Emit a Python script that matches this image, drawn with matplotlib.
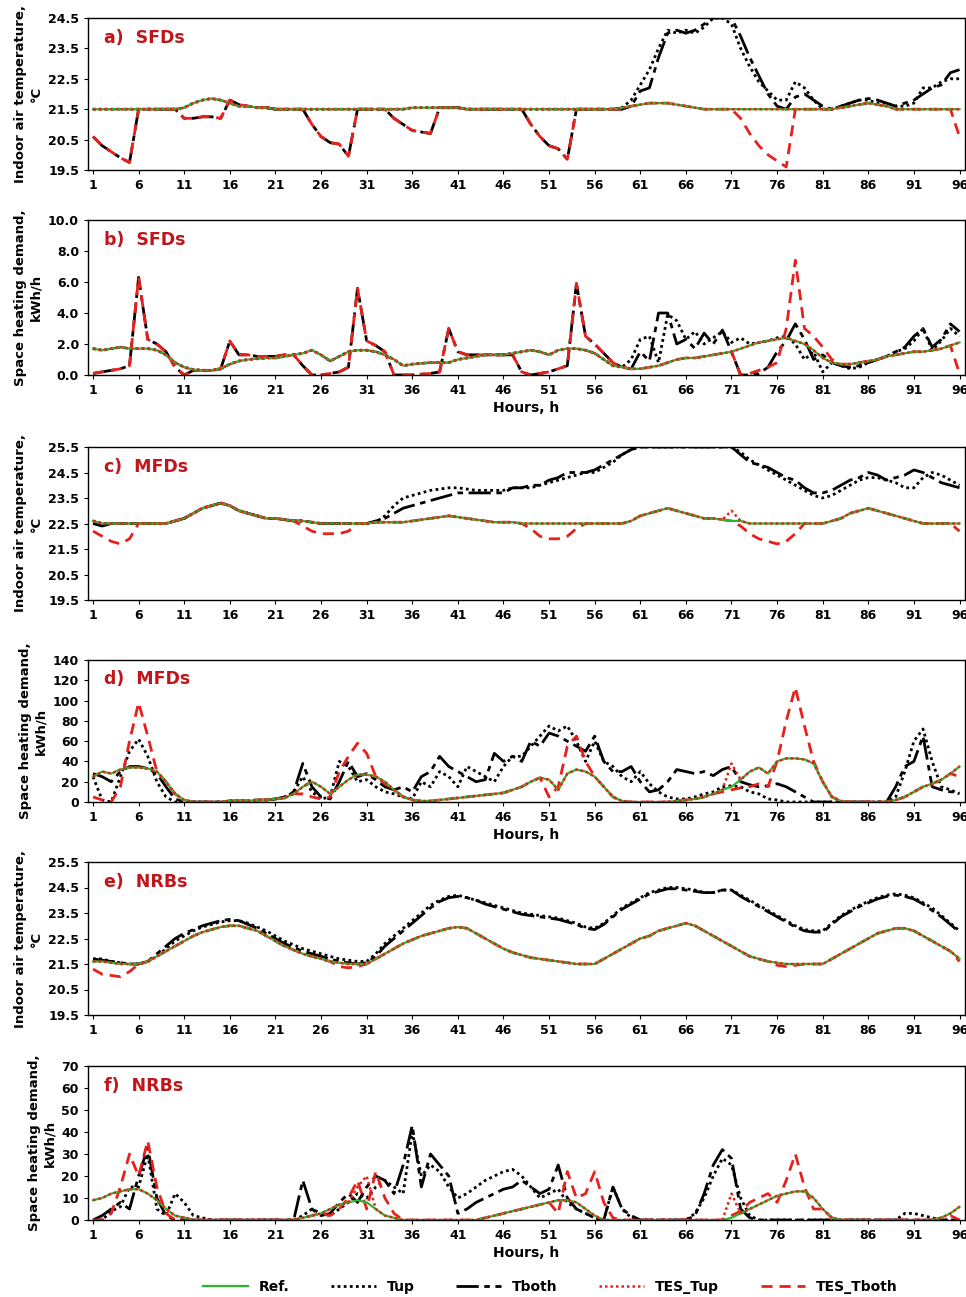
import matplotlib
matplotlib.use("Agg")
import matplotlib.pyplot as plt
import numpy as np

hours = list(range(1, 97))
xticks = list(range(1, 97, 5))

# ---- a) SFDs temperature
a_ref = [21.5]*10 + [21.55,21.7,21.8,21.85,21.8,21.7,21.6,21.6,21.55,21.55] + [21.5]*15 + [21.55]*6 + [21.5]*17 \
    + [21.55,21.6,21.65,21.7,21.7,21.7,21.65,21.6,21.55] + [21.5]*15 + [21.55,21.6,21.65,21.7,21.65,21.6] + [21.5]*8
a_tup = a_ref[:59] + [21.8,22.3,22.8,23.5,24.1,24.0,24.1,24.0,24.2,24.5, 24.5,24.3,23.5,22.9,22.4,22.1,21.8,21.8,22.4,22.2,
                      21.8,21.5,21.5,21.6,21.7,21.8,21.8,21.7,21.7,21.6, 21.6,21.7,22.2,22.2,22.4,22.5,22.5]
a_tboth = [20.6,20.3,20.1,19.9,19.75] + [21.5]*5 + [21.2,21.2,21.25,21.25,21.2] + [21.8,21.65,21.6,21.55,21.55] + [21.5]*4 \
    + [21.0,20.6,20.4,20.35,19.95] + [21.5]*4 + [21.2,21.0,20.8,20.75,20.7] + [21.55]*3 + [21.5]*7 \
    + [21.0,20.6,20.3,20.2,19.85] + [21.5]*6 \
    + [21.6,22.1,22.2,23.2,24.0,24.1,24.0,24.1,24.3,24.5, 24.5,24.5,23.9,23.2,22.6,22.0,21.6,21.5,21.9,22.0,
       21.8,21.6,21.5,21.6,21.7,21.8,21.85,21.8,21.7,21.6, 21.7,21.8,22.0,22.2,22.3,22.7,22.8]
a_tes_tup = list(a_ref)
a_tes_tboth = a_tboth[:59] + a_ref[59:71] + [21.2,20.7,20.3,20.0,19.8,19.6] + a_ref[77:95] + [20.6]

# ---- b) SFDs heating
b_ref = [1.7,1.6,1.7,1.8,1.7,1.7,1.7,1.6,1.3,0.8, 0.5,0.35,0.3,0.3,0.4,0.7,0.9,1.0,1.05,1.1,
         1.1,1.2,1.3,1.4,1.6,1.3,0.9,1.2,1.5,1.6, 1.6,1.5,1.3,1.0,0.6,0.7,0.75,0.8,0.8,0.8,
         1.0,1.1,1.2,1.3,1.3,1.3,1.4,1.5,1.6,1.5, 1.3,1.6,1.7,1.7,1.6,1.4,1.0,0.6,0.5,0.4,
         0.4,0.5,0.6,0.8,1.0,1.1,1.1,1.2,1.3,1.4, 1.5,1.7,1.9,2.1,2.2,2.3,2.4,2.2,2.0,1.6,
         1.1,0.8,0.7,0.7,0.8,0.9,1.0,1.2,1.3,1.4, 1.5,1.5,1.6,1.7,1.9,2.1]
b_tboth = [0.1,0.2,0.3,0.4,0.6,6.3,2.3,2.0,1.5,0.5, 0.0,0.3,0.3,0.3,0.4,2.2,1.3,1.3,1.2,1.2,
           1.2,1.3,1.3,0.6,0.0,0.0,0.1,0.2,0.5,5.6, 2.2,1.9,1.5,0.0,0.0,0.0,0.05,0.1,0.2,3.0,
           1.5,1.3,1.3,1.3,1.3,1.3,1.3,0.2,0.0,0.1, 0.2,0.4,0.6,5.9,2.5,2.0,1.4,0.8,0.5,0.4,
           1.5,0.9,4.0,4.0,2.0,2.3,1.7,2.7,2.0,2.9, 1.5,0.0,0.0,0.1,0.5,1.5,2.2,3.3,2.3,1.0,
           1.3,0.8,0.6,0.5,0.6,0.8,1.0,1.2,1.5,1.8, 2.5,3.0,1.8,2.3,3.3,2.8]
b_tes_tboth = b_tboth[:60] + b_ref[60:71] + [0.0,0.1,0.3,0.5,0.8,3.0,7.4,3.0,2.5,1.8,1.0] + b_ref[82:95] + [0.1]
b_tup = b_ref[:59] + [1.0,2.3,2.5,0.8,3.9,3.5,2.3,2.8,2.0,2.4,2.8, 2.1,2.4,2.0,2.1,2.2,2.4,2.5,2.0,1.0,1.5,
                      0.2,0.8,0.6,0.4,0.5,0.8,1.0,1.2,1.5,1.7, 2.2,3.0,1.6,2.2,3.0,2.5]
b_tes_tup = list(b_ref)

# ---- c) MFDs temperature
c_ref = [22.6,22.5,22.5,22.5,22.5,22.5,22.5,22.5,22.5,22.6, 22.7,22.9,23.1,23.2,23.3,23.2,23.0,22.9,22.8,22.7,
         22.7,22.65,22.6,22.6,22.55,22.5,22.5,22.5,22.5,22.5, 22.5,22.55,22.55,22.55,22.55,22.6,22.65,22.7,22.75,22.8,
         22.75,22.7,22.65,22.6,22.55,22.55,22.55,22.5,22.5,22.5] + [22.5]*9 + [22.6] \
    + [22.8,22.9,23.0,23.1,23.0,22.9,22.8,22.7,22.7,22.65, 22.6,22.6,22.5,22.5,22.5,22.5,22.5,22.5,22.5,22.5,
       22.5,22.6,22.7,22.9,23.0,23.1,23.0,22.9,22.8,22.7, 22.6,22.5,22.5,22.5,22.5,22.5]
c_tes_tup = c_ref[:70] + [23.0] + c_ref[71:]
c_tes_tboth = [22.2,22.0,21.8,21.7,21.9] + c_ref[5:23] + [22.4,22.2,22.1,22.1,22.1,22.2] + c_ref[29:48] \
    + [22.3,22.0,21.9,21.9,22.0,22.3] + c_ref[54:71] + [22.4,22.1,21.9,21.8,21.7,21.8,22.1] + c_ref[78:95] + [22.2]
c_tup = c_ref[:32] + [22.8,23.2,23.5,23.6,23.7,23.8,23.85,23.9,
                      23.9,23.85,23.8,23.8,23.8,23.8,23.9,23.9,23.9,24.0,
                      24.1,24.2,24.3,24.4,24.5,24.5,24.7,24.9,25.2,25.4] + [25.5]*11 \
    + [25.3,25.0,24.8,24.6,24.4,24.2,24.0,23.8,23.6,23.5, 23.6,23.8,24.0,24.2,24.3,24.3,24.2,24.1,23.9,23.9,
       24.3,24.5,24.4,24.2,24.0]
c_tboth = [22.5,22.4] + c_ref[2:31] + [22.6,22.7,22.9,23.1,23.2,23.3,23.4,23.5,23.6] + [23.7]*6 + [23.9,23.9,24.0,24.0] \
    + [24.2,24.3,24.5,24.5,24.5,24.6,24.8,25.0,25.2,25.4] + [25.5]*11 \
    + [25.2,24.9,24.8,24.7,24.5,24.3,24.2,23.9,23.7,23.7, 23.8,24.0,24.2,24.3,24.5,24.4,24.2,24.3,24.4,24.6,
       24.5,24.3,24.1,24.0,23.9]

# ---- d) MFDs heating
d_ref = [25,30,28,32,34,34,33,30,20,8, 2,0,0,0,0,1,1,1,2,2, 3,4,8,15,20,15,8,15,22,27,
         27,25,20,12,5,2,1,1,2,3, 4,5,6,7,8,9,12,15,20,24, 22,12,28,32,30,25,15,5,1,0,
         0,0,0,0,1,2,3,5,8,12, 15,22,30,34,28,40,43,43,42,38, 20,5,1,0,0,0,0,0,2,5,
         10,15,18,22,28,35]
d_tes_tup = d_ref[:70] + [38] + d_ref[71:]
d_tes_tboth = [5,2,0,15,60,98,65,30] + d_ref[8:23] + [8,5,3,5,30,45,58,48,25,18] + d_ref[33:50] \
    + [5,15,55,65,40,25] + d_ref[56:69] + [10,12,14,15,18,15,40,80,113,75,40,20] + d_ref[81:95] + [25]
d_tup = [25,2,0,25,50,62,45,20,5,0, 0,0,0,0,0,1,1,1,2,2, 3,4,10,25,10,3,5,40,35,20,
         22,15,10,8,5,3,20,15,30,25, 15,35,30,25,20,35,45,45,55,65, 75,70,75,60,40,60,40,35,25,20,
         30,18,10,5,3,3,5,8,10,15, 16,15,10,8,3,2,0,0,0,0, 0,0,0,0,0,0,0,0,5,30,
         60,72,40,15,12,8]
d_tboth = [28,25,20,30,35,35,33,28,15,3, 0,0,0,0,0,1,1,1,2,2, 3,5,10,38,15,5,3,20,40,25,
           28,22,15,12,15,10,25,30,45,35, 30,25,20,22,48,40,45,40,60,55, 68,65,60,55,50,65,40,30,30,35,
           20,10,12,20,32,30,28,30,26,32, 35,20,17,15,16,18,15,10,5,0, 0,0,0,0,0,0,0,0,15,35,
           40,65,15,12,10,10]

# ---- e) NRBs temperature
e_ref = [21.6,21.6,21.55,21.5,21.5,21.5,21.6,21.8,22.0,22.2, 22.4,22.6,22.75,22.85,22.95,23.0,23.0,22.9,22.8,22.6,
         22.4,22.2,22.05,21.9,21.8,21.7,21.6,21.55,21.5,21.5, 21.5,21.7,21.9,22.1,22.3,22.45,22.6,22.7,22.8,22.9,
         22.95,22.9,22.7,22.5,22.3,22.1,21.95,21.85,21.75,21.7, 21.65,21.6,21.55,21.5,21.5,21.5,21.7,21.9,22.1,22.3,
         22.5,22.6,22.8,22.9,23.0,23.1,23.0,22.8,22.6,22.4, 22.2,22.0,21.8,21.7,21.6,21.55,21.5,21.5,21.5,21.5,
         21.5,21.7,21.9,22.1,22.3,22.5,22.7,22.8,22.9,22.9, 22.8,22.6,22.4,22.2,22.0,21.7]
e_tes_tup = list(e_ref)
e_tes_tboth = [21.3,21.1,21.05,21.0,21.2] + e_ref[5:27] + [21.4,21.35,21.4] + e_ref[30:75] + [21.45,21.4,21.45] + e_ref[78:95] + [21.6]
e_tup = [21.7,21.7,21.6,21.55,21.5,21.5,21.6,21.8,22.1,22.4, 22.6,22.8,22.95,23.05,23.15,23.2,23.2,23.1,22.95,22.8,
         22.6,22.4,22.25,22.1,22.0,21.9,21.8,21.7,21.65,21.6, 21.6,21.9,22.3,22.6,22.9,23.2,23.5,23.8,24.0,24.15,
         24.2,24.1,24.0,23.9,23.8,23.7,23.6,23.5,23.45,23.4, 23.35,23.3,23.2,23.1,22.95,22.9,23.1,23.4,23.7,23.9,
         24.1,24.3,24.4,24.5,24.5,24.45,24.4,24.3,24.3,24.4, 24.4,24.2,24.0,23.8,23.6,23.4,23.2,23.0,22.85,22.8,
         22.8,23.1,23.4,23.6,23.8,23.95,24.1,24.2,24.25,24.2, 24.1,23.9,23.7,23.4,23.1,22.8]
e_tboth = [21.7,21.65,21.6,21.55,21.5,21.5,21.6,21.9,22.2,22.5, 22.7,22.85,23.0,23.1,23.2,23.25,23.2,23.05,22.9,22.7,
           22.5,22.3,22.15,22.0,21.9,21.8,21.7,21.6,21.55,21.5, 21.55,21.8,22.2,22.5,22.8,23.1,23.4,23.7,23.95,24.1,
           24.15,24.1,24.0,23.85,23.75,23.65,23.55,23.45,23.4,23.35, 23.3,23.25,23.15,23.05,22.9,22.85,23.05,23.35,23.65,23.85,
           24.05,24.25,24.35,24.45,24.45,24.4,24.35,24.3,24.3,24.4, 24.4,24.15,23.95,23.75,23.55,23.35,23.15,22.95,22.8,22.75,
           22.75,23.05,23.35,23.55,23.75,23.9,24.05,24.15,24.2,24.15, 24.05,23.85,23.6,23.35,23.05,22.75]

# ---- f) NRBs heating
f_ref = [9,10,12,13,14,14,12,9,5,2, 1,0,0,0,0,0,0,0,0,0, 0,0,0,1,2,3,5,7,8,9, 8,5,2,1,0,0,0,0,0,0,
         0,0,0,1,2,3,4,5,6,7, 8,9,9,8,5,2,0,0,0,0, 0,0,0,0,0,0,0,0,0,0, 1,3,5,7,9,11,12,13,13,10,
         5,1,0,0,0,0,0,0,0,0, 0,0,0,1,3,6]
f_tes_tup = f_ref[:29] + [15,20] + f_ref[31:70] + [12] + f_ref[71:]
f_tes_tboth = [0,0,3,15,30,20,36,15,3,0] + f_ref[10:26] + [2,5,10,18,5,22,10,3] + f_ref[34:51] \
    + [3,22,10,12,22,8,1] + f_ref[58:70] + [2,4,8,10,12,8,18,30,15,5] + f_ref[80:94] + [2,0]
f_tup = [0,0,4,6,15,15,30,5,2,12, 8,2,1,0,0,0,0,0,0,0, 0,0,0,2,5,3,2,5,8,12, 10,15,18,15,12,40,20,25,22,15,
         10,12,15,18,20,22,23,20,15,10, 12,14,8,5,3,1,0,15,5,1, 0,0,0,0,0,0,3,10,20,28, 25,10,2,0,0,0,0,0,0,0,
         0,0,0,0,0,0,0,0,0,3, 3,2,1,0,0,0]
f_tboth = [0,2,5,8,5,20,33,10,2,0, 0,0,0,0,0,0,0,0,0,0, 0,0,0,18,5,2,3,8,12,8, 15,20,18,12,25,43,15,30,25,20,
           3,5,8,10,12,14,15,18,15,12, 14,25,10,5,3,1,0,15,5,2, 0,0,0,0,0,0,2,12,25,32, 28,5,1,0,0,0,0,0,0,0,
           0,0,0,0,0,0,0,0,0,0, 0,0,0,0,0,0]

panels = [
    ("a)  SFDs", (a_ref, a_tup, a_tboth, a_tes_tup, a_tes_tboth), (19.5, 24.5), np.arange(19.5, 24.6, 1.0), "T", False),
    ("b)  SFDs", (b_ref, b_tup, b_tboth, b_tes_tup, b_tes_tboth), (0, 10), np.arange(0, 10.1, 2), "Q1", True),
    ("c)  MFDs", (c_ref, c_tup, c_tboth, c_tes_tup, c_tes_tboth), (19.5, 25.5), np.arange(19.5, 25.6, 1.0), "T", False),
    ("d)  MFDs", (d_ref, d_tup, d_tboth, d_tes_tup, d_tes_tboth), (0, 140), np.arange(0, 141, 20), "Q0", True),
    ("e)  NRBs", (e_ref, e_tup, e_tboth, e_tes_tup, e_tes_tboth), (19.5, 25.5), np.arange(19.5, 25.6, 1.0), "T", False),
    ("f)  NRBs", (f_ref, f_tup, f_tboth, f_tes_tup, f_tes_tboth), (0, 70), np.arange(0, 71, 10), "Q0", True),
]
boxes = [(18, 170), (220, 375), (447, 600), (660, 802), (862, 1015), (1066, 1220)]

W, H = 966, 1297
fig = plt.figure(figsize=(W/100, H/100), dpi=100)
GREEN = '#2db52d'
RED = '#e8201c'
labels = ["Ref.", "Tup", "Tboth", "TES_Tup", "TES_Tboth"]
handles = None
for (title, series, ylim, yt, kind, xlab), (top, bot) in zip(panels, boxes):
    ax = fig.add_axes([88/W, 1-bot/H, 877/W, (bot-top)/H])
    ref, tup, tboth, tes_tup, tes_tboth = series
    l2, = ax.plot(hours, tup, color='black', ls=(0, (1, 1.2)), lw=2.0)
    l3, = ax.plot(hours, tboth, color='black', ls=(0, (8, 2, 2, 2)), lw=2.0)
    l5, = ax.plot(hours, tes_tboth, color=RED, ls=(0, (4, 2.5)), lw=2.0)
    l1, = ax.plot(hours, ref, color=GREEN, lw=1.6)
    l4, = ax.plot(hours, tes_tup, color=RED, ls=(0, (1, 1.2)), lw=1.8)
    handles = [l1, l2, l3, l4, l5]
    ax.set_xlim(0.45, 96.6)
    ax.set_ylim(*ylim)
    ax.set_xticks(xticks)
    ax.set_yticks(yt)
    if kind == "T":
        ax.set_yticklabels([f"{v:.1f}" for v in yt])
        ax.set_ylabel("Indoor air temperature,\n°C", fontsize=9.5, fontweight='bold', labelpad=4)
    elif kind == "Q1":
        ax.set_yticklabels([f"{v:.1f}" for v in yt])
        ax.set_ylabel("Space heating demand,\nkWh/h", fontsize=9.5, fontweight='bold', labelpad=4)
    else:
        ax.set_yticklabels([f"{int(v)}" for v in yt])
        ax.set_ylabel("Space heating demand,\nkWh/h", fontsize=9.5, fontweight='bold', labelpad=4)
    ax.tick_params(labelsize=9, length=3)
    for t in ax.get_xticklabels() + ax.get_yticklabels():
        t.set_fontweight('bold')
    for s in ax.spines.values():
        s.set_linewidth(1.0)
    ax.text(0.018, 0.93, title, transform=ax.transAxes, color='#c0161b', fontsize=12.5,
            fontweight='bold', va='top', ha='left')
    if xlab:
        ax.set_xlabel("Hours, h", fontsize=10, fontweight='bold', labelpad=3)

fig.legend(handles, labels, loc='center', bbox_to_anchor=(0.57, 0.008), ncol=5, frameon=False,
           handlelength=3.2, columnspacing=3.0, prop={'weight': 'bold', 'size': 10})
fig.savefig("out.png", dpi=100)
